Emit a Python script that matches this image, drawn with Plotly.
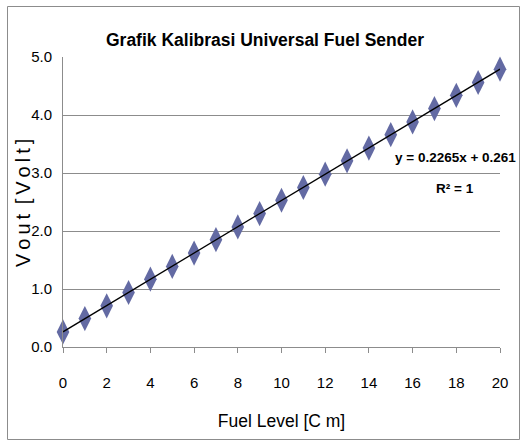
import plotly.graph_objects as go

fuel_level = [0, 1, 2, 3, 4, 5, 6, 7, 8, 9, 10, 11, 12, 13, 14, 15, 16, 17, 18, 19, 20]
vout = [0.26, 0.49, 0.71, 0.94, 1.17, 1.39, 1.62, 1.85, 2.07, 2.30, 2.53,
        2.75, 2.98, 3.21, 3.43, 3.66, 3.88, 4.11, 4.34, 4.56, 4.79]
trend_x = [0, 20]
trend_y = [0.261, 0.2265 * 20 + 0.261]
x_ticks = [0, 2, 4, 6, 8, 10, 12, 14, 16, 18, 20]
y_ticks = [0.0, 1.0, 2.0, 3.0, 4.0, 5.0]

FONT = "Liberation Sans, Arial, sans-serif"
L, R, T, B = 63, 21, 57, 94
PW, PH = 521 - L - R, 441 - T - B

def px(x):
    return (x - L) / PW

def py(y):
    return (441 - B - y) / PH

fig = go.Figure()
fig.add_trace(go.Scatter(
    x=fuel_level, y=vout, mode="markers",
    marker=dict(symbol="diamond-tall", size=18, color="#636aa3", line=dict(width=0)),
    showlegend=False, cliponaxis=False))
fig.add_trace(go.Scatter(
    x=trend_x, y=trend_y, mode="lines",
    line=dict(color="black", width=1.3), showlegend=False, cliponaxis=False))

fig.update_layout(
    width=521, height=441,
    margin=dict(l=L, r=R, t=T, b=B),
    paper_bgcolor="white", plot_bgcolor="white",
    font=dict(family=FONT, size=15, color="black"),
    title=dict(text="<b>Grafik Kalibrasi Universal Fuel Sender</b>",
               x=265 / 521, xanchor="center", y=1 - 40 / 441, yanchor="middle",
               font=dict(size=17.5, family=FONT)),
    xaxis=dict(range=[0, 20], tickvals=x_ticks, ticktext=[str(v) for v in x_ticks],
               showgrid=False, zeroline=False, showline=True, linecolor="#8c8c8c",
               linewidth=1, ticks="outside", ticklen=5, tickcolor="#8c8c8c",
               tickfont=dict(size=15), ticklabelstandoff=17, automargin=False,
               title=dict(text="Fuel Level [C m]", font=dict(size=17.5), standoff=24)),
    yaxis=dict(range=[0, 5], tickvals=y_ticks, ticktext=[f"{v:.1f}" for v in y_ticks],
               showgrid=True, gridcolor="#8c8c8c", gridwidth=1, zeroline=False,
               showline=True, linecolor="#8c8c8c", linewidth=1, ticks="",
               tickfont=dict(size=15), ticklabelstandoff=7, automargin=False),
    shapes=[dict(type="rect", xref="paper", yref="paper",
                 x0=px(7.5), x1=px(519.5), y0=py(439.5), y1=py(6.5),
                 line=dict(color="#8c8c8c", width=1), layer="below")],
    annotations=[
        dict(text="V\u2009o\u2009u\u2009t\u2009 [\u2009V\u2009o\u2009l\u2009t\u2009]",
             xref="paper", yref="paper", x=px(23), y=py(203),
             xanchor="center", yanchor="middle", textangle=-90,
             showarrow=False, font=dict(size=20, family=FONT)),
        dict(text="<b>y = 0.2265x + 0.261</b>", xref="paper", yref="paper",
             x=px(518), y=py(157), xanchor="right", yanchor="middle",
             showarrow=False, font=dict(size=13.5, family=FONT)),
        dict(text="<b>R² = 1</b>", xref="paper", yref="paper",
             x=px(455), y=py(188), xanchor="center", yanchor="middle",
             showarrow=False, font=dict(size=13.5, family=FONT)),
    ],
)

fig.write_html("out.html", config={"displayModeBar": False},
               post_script="document.body.style.margin='0';document.body.style.padding='0';")
